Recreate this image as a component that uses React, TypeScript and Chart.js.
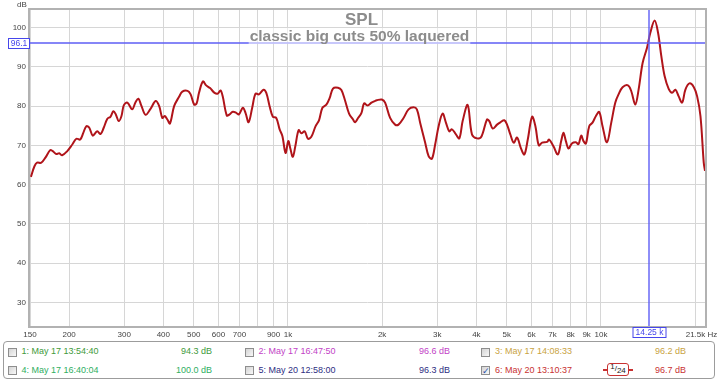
import React, { useEffect, useRef } from "react";
import { Chart, registerables } from "chart.js";

Chart.register(...registerables);

// ---------- data ----------
const FREQS = [
  151, 155, 158, 163, 168, 174, 177, 182, 186, 190, 197, 205, 211, 217, 222, 227, 232, 238, 246, 252,
  258, 265, 271, 277, 282, 288, 294, 299, 307, 318, 326, 333, 340, 351, 364, 378, 388, 397, 404, 412,
  420, 433, 449, 460, 478, 489, 502, 511, 520, 535, 548, 564, 583, 597, 609, 619, 638, 651, 667, 684,
  697, 718, 732, 749, 769, 788, 808, 836, 853, 874, 895, 918, 941, 960, 983, 1003, 1018, 1037, 1056, 1082,
  1104, 1131, 1159, 1188, 1226, 1257, 1289, 1327, 1360, 1393, 1446, 1482, 1519, 1568, 1615, 1639, 1675, 1718, 1751, 1796,
  1849, 1894, 1922, 1995, 2044, 2121, 2200, 2256, 2341, 2429, 2520, 2582, 2645, 2745, 2815, 2884, 2955, 3030, 3120, 3197,
  3277, 3342, 3424, 3527, 3616, 3752, 3873, 4018, 4148, 4325, 4399, 4511, 4657, 4771, 4914, 5012, 5135, 5265, 5395, 5557,
  5693, 5838, 6026, 6175, 6331, 6487, 6731, 6831, 7052, 7285, 7464, 7592, 7727, 7877, 8076, 8318, 8478, 8648, 8796, 8954,
  9174, 9399, 9638, 9876, 10118, 10452, 10789, 11111, 11384, 11724, 12201, 12502, 12876, 13192, 13587, 14035, 14379, 14843, 15222, 15596,
  15981, 16459, 16877, 17291, 17718, 18167, 18613, 19170, 19789, 20292, 20794, 21303, 21500,
];
const SPL = [
  62.0, 64.7, 65.6, 65.6, 66.9, 68.8, 68.6, 67.8, 68.0, 67.5, 68.5, 70.3, 71.7, 71.5, 73.2, 74.9, 74.5, 72.5, 73.6, 72.9,
  74.5, 76.8, 77.3, 78.7, 77.9, 76.2, 77.5, 80.2, 80.9, 79.2, 81.0, 81.9, 80.2, 77.8, 79.3, 81.3, 80.0, 77.0, 77.5, 76.6,
  75.6, 80.0, 82.4, 83.7, 83.9, 83.0, 80.4, 80.7, 83.4, 86.3, 85.3, 84.6, 83.4, 83.2, 84.0, 82.5, 77.6, 77.9, 78.6, 78.3,
  77.9, 79.6, 78.3, 75.9, 79.6, 83.2, 83.0, 84.2, 83.4, 80.0, 77.3, 77.0, 74.1, 72.4, 68.1, 71.1, 69.2, 67.1, 69.8, 73.9,
  73.1, 73.6, 71.7, 72.2, 74.9, 76.4, 79.6, 80.4, 82.1, 84.5, 84.7, 84.1, 81.7, 78.1, 76.6, 75.9, 77.0, 78.3, 80.7, 80.2,
  80.9, 81.3, 81.5, 81.7, 80.9, 77.0, 75.3, 75.3, 77.0, 79.2, 79.7, 79.2, 75.8, 70.7, 67.3, 66.6, 70.3, 74.9, 78.1, 75.8,
  73.6, 74.1, 73.1, 71.8, 76.2, 80.3, 72.8, 71.8, 72.2, 76.6, 76.2, 74.3, 75.3, 75.9, 76.4, 75.3, 72.8, 70.7, 72.0, 69.2,
  67.7, 71.5, 77.3, 74.9, 70.0, 70.7, 70.9, 71.5, 69.8, 67.7, 71.1, 73.2, 71.1, 69.2, 70.5, 70.8, 70.3, 72.5, 71.1, 70.5,
  74.9, 75.8, 77.5, 78.5, 74.9, 70.8, 75.8, 80.9, 83.0, 84.8, 85.3, 83.8, 80.4, 84.2, 91.0, 94.9, 98.7, 101.8, 98.7, 92.7,
  87.6, 84.4, 83.4, 84.2, 82.5, 80.9, 84.2, 85.8, 84.9, 82.5, 77.5, 65.6, 63.5,
];

const X_MIN = 150;
const X_MAX = 21500;
const Y_MIN = 24;
const Y_MAX = 104.5;
const X_TICK_VALUES = [150, 200, 300, 400, 500, 600, 700, 800, 900, 1000, 2000, 3000, 4000, 5000, 6000, 7000, 8000, 9000, 10000, 20000, 21500];
const X_TICK_LABELS = ["150", "200", "300", "400", "500", "600", "700", "", "900", "1k", "2k", "3k", "4k", "5k", "6k", "7k", "8k", "9k", "10k", "", ""];
const X_END_LABEL = "21.5k Hz";
const Y_TICKS = [30, 40, 50, 60, 70, 80, 90, 100];
const Y_UNIT = "dB";

const CURSOR_FREQ = 14250;
const CURSOR_FREQ_LABEL = "14.25 k";
const CURSOR_SPL = 96.1;
const CURSOR_SPL_LABEL = "96.1";

const TITLE = "SPL";
const SUBTITLE = "classic big cuts 50% laquered";

const LEGEND_NAMES = [
  "1: May 17 13:54:40",
  "2: May 17 16:47:50",
  "3: May 17 14:08:33",
  "4: May 17 16:40:04",
  "5: May 20 12:58:00",
  "6: May 20 13:10:37",
];
const LEGEND_LEVELS = ["94.3 dB", "96.6 dB", "96.2 dB", "100.0 dB", "96.3 dB", "96.7 dB"];
const LEGEND_COLORS = ["#419a3b", "#c23fc6", "#c9a33f", "#2fae62", "#2e2e82", "#c83232"];
const LEGEND_CHECKED = [false, false, false, false, false, true];
const SMOOTHING_NUM = "1";
const SMOOTHING_DEN = "24";

// ---------- styles ----------
const FONT = '"Liberation Sans", Arial, sans-serif';
const CURVE = "#b0141a";
const BLUE = "rgb(70, 70, 235)";
const CURSOR_LINE = "rgb(95, 95, 245)";
const GRID = "#d6d6d6";

const cursorPlugin = {
  id: "cursorLines",
  afterDatasetsDraw(chart: any) {
    const { ctx, chartArea: a, scales } = chart;
    const cx = Math.round(scales.x.getPixelForValue(CURSOR_FREQ));
    const cy = Math.round(scales.y.getPixelForValue(CURSOR_SPL));
    ctx.save();
    ctx.strokeStyle = CURSOR_LINE;
    ctx.lineWidth = 1.4;
    ctx.beginPath();
    ctx.moveTo(a.left, cy);
    ctx.lineTo(a.right, cy);
    ctx.moveTo(cx, a.top);
    ctx.lineTo(cx, a.bottom + 3);
    ctx.stroke();
    ctx.restore();
  },
};

const overlayPlugin = {
  id: "overlay",
  afterDraw(chart: any) {
    const { ctx, chartArea: a, scales } = chart;
    const W = chart.width;
    ctx.save();
    // frame
    ctx.strokeStyle = "#b2b2b2";
    ctx.lineWidth = 2;
    ctx.strokeRect(a.left - 1, a.top - 1, a.right - a.left + 2, a.bottom - a.top + 2);

    // title
    ctx.textAlign = "center";
    ctx.textBaseline = "alphabetic";
    ctx.fillStyle = "#8c8c8c";
    ctx.font = `bold 17px ${FONT}`;
    ctx.fillText(TITLE, W / 2 + 2, 25);
    ctx.font = `bold 15.5px ${FONT}`;
    const sw = ctx.measureText(SUBTITLE).width;
    ctx.fillStyle = "rgba(255,255,255,0.55)";
    ctx.fillRect(W / 2 - sw / 2 - 1, 28, sw + 2, 16);
    ctx.fillStyle = "#8c8c8c";
    ctx.fillText(SUBTITLE, W / 2, 41);

    // unit label
    ctx.font = `8px ${FONT}`;
    ctx.fillStyle = "#444";
    ctx.textBaseline = "middle";
    ctx.fillText(Y_UNIT, 22, 5);

    // x end label
    ctx.fillText(X_END_LABEL, 701.5, 334.5);

    // cursor labels
    const cx = Math.round(scales.x.getPixelForValue(CURSOR_FREQ)) + 0.5;
    const cy = Math.round(scales.y.getPixelForValue(CURSOR_SPL)) + 0.5;
    ctx.font = `8.5px ${FONT}`;
    ctx.lineWidth = 1;
    ctx.strokeStyle = BLUE;
    ctx.fillStyle = "#fff";
    ctx.fillRect(8.5, cy - 5, 21, 10);
    ctx.strokeRect(8.5, cy - 5, 21, 10);
    ctx.fillStyle = BLUE;
    ctx.fillText(CURSOR_SPL_LABEL, 19, cy + 0.5);

    const bw = 33;
    ctx.fillStyle = "#fff";
    ctx.fillRect(cx - bw / 2, a.bottom + 1.5, bw, 10);
    ctx.strokeRect(cx - bw / 2, a.bottom + 1.5, bw, 10);
    ctx.fillStyle = BLUE;
    ctx.fillText(CURSOR_FREQ_LABEL, cx, a.bottom + 7);
    ctx.restore();
  },
};

function CheckBox({ checked, left, top }: { checked: boolean; left: number; top: number }) {
  return (
    <div
      style={{
        position: "absolute",
        left,
        top,
        width: 9,
        height: 9,
        boxSizing: "border-box",
        border: "1px solid #8e8e8e",
        background: "linear-gradient(135deg, #d4d4d4, #f8f8f8)",
        fontSize: 9,
        lineHeight: "8px",
        color: "#2a4fa8",
        textAlign: "center",
        fontFamily: '"DejaVu Sans", sans-serif',
        fontWeight: "bold",
      }}
    >
      {checked ? "\u2713" : ""}
    </div>
  );
}

export default function App() {
  const canvasRef = useRef<HTMLCanvasElement | null>(null);

  useEffect(() => {
    const canvas = canvasRef.current;
    if (!canvas) return;
    const chart = new Chart(canvas, {
      type: "line",
      data: {
        datasets: [
          {
            data: FREQS.map((f, i) => ({ x: f, y: SPL[i] })),
            borderColor: CURVE,
            borderWidth: 2,
            pointRadius: 0,
            tension: 0.35,
            fill: false,
          },
        ],
      },
      options: {
        responsive: false,
        animation: false,
        layout: { padding: { left: 0, right: 14, top: 10, bottom: 0 } },
        plugins: {
          legend: { display: false },
          tooltip: { enabled: false },
          title: { display: false },
        },
        scales: {
          x: {
            type: "logarithmic",
            min: X_MIN,
            max: X_MAX,
            afterBuildTicks: (s: any) => {
              s.ticks = X_TICK_VALUES.map((v) => ({ value: v }));
            },
            afterFit: (s: any) => {
              s.height = 15;
            },
            ticks: {
              autoSkip: false,
              maxRotation: 0,
              minRotation: 0,
              padding: 4,
              color: "#444",
              font: { size: 8, family: FONT },
              callback: (_v: any, i: number) => X_TICK_LABELS[i],
            },
            grid: { color: GRID, lineWidth: 1, drawTicks: false },
            border: { display: false },
          },
          y: {
            type: "linear",
            min: Y_MIN,
            max: Y_MAX,
            afterBuildTicks: (s: any) => {
              s.ticks = Y_TICKS.map((v) => ({ value: v }));
            },
            afterFit: (s: any) => {
              s.width = 30;
            },
            ticks: {
              padding: 4,
              color: "#444",
              font: { size: 8, family: FONT },
              callback: (v: any) => String(v),
            },
            grid: { color: GRID, lineWidth: 1, drawTicks: false },
            border: { display: false },
          },
        },
      },
      plugins: [cursorPlugin, overlayPlugin],
    } as any);
    return () => chart.destroy();
  }, []);

  const colX = [7.5, 245, 481];
  const nameX = [21.5, 258.5, 495];
  const levelRight = [212, 450, 686];
  const rowY = [351.7, 370.3];

  return (
    <div
      style={{
        position: "absolute",
        left: 0,
        top: 0,
        width: 719,
        height: 381,
        background: "#fff",
        fontFamily: FONT,
        overflow: "hidden",
      }}
    >
      <canvas ref={canvasRef} width={719} height={341} style={{ position: "absolute", left: 0, top: 0 }} />
      <div
        style={{
          position: "absolute",
          left: 3,
          top: 341,
          width: 712,
          height: 38,
          boxSizing: "border-box",
          border: "1px solid #9c9c9c",
          borderRadius: 4,
        }}
      />
      {LEGEND_NAMES.map((name, i) => {
        const row = Math.floor(i / 3);
        const col = i % 3;
        const cy = rowY[row];
        return (
          <React.Fragment key={name}>
            <CheckBox checked={LEGEND_CHECKED[i]} left={colX[col]} top={cy - 4} />
            <div
              style={{
                position: "absolute",
                left: nameX[col],
                top: cy - 5.5,
                fontSize: 9,
                lineHeight: "11px",
                color: LEGEND_COLORS[i],
                whiteSpace: "nowrap",
              }}
            >
              {name}
            </div>
            <div
              style={{
                position: "absolute",
                left: levelRight[col] - 60,
                width: 60,
                top: cy - 5.5,
                fontSize: 9,
                lineHeight: "11px",
                color: LEGEND_COLORS[i],
                textAlign: "right",
                whiteSpace: "nowrap",
              }}
            >
              {LEGEND_LEVELS[i]}
            </div>
          </React.Fragment>
        );
      })}
      {/* smoothing indicator */}
      <div
        style={{
          position: "absolute",
          left: 603,
          top: 369,
          width: 30,
          height: 1.5,
          background: "#c83232",
        }}
      />
      <div
        style={{
          position: "absolute",
          left: 607,
          top: 363,
          width: 22,
          height: 13,
          boxSizing: "border-box",
          border: "1.5px solid #c83232",
          borderRadius: 3,
          background: "#fff",
          color: "#222",
          fontSize: 8,
          lineHeight: "10px",
          textAlign: "center",
          whiteSpace: "nowrap",
        }}
      >
        <span style={{ position: "relative", top: -2 }}>{SMOOTHING_NUM}</span>
        <span style={{ fontSize: 8 }}>/</span>
        <span style={{ position: "relative", top: 1.5 }}>{SMOOTHING_DEN}</span>
      </div>
    </div>
  );
}
